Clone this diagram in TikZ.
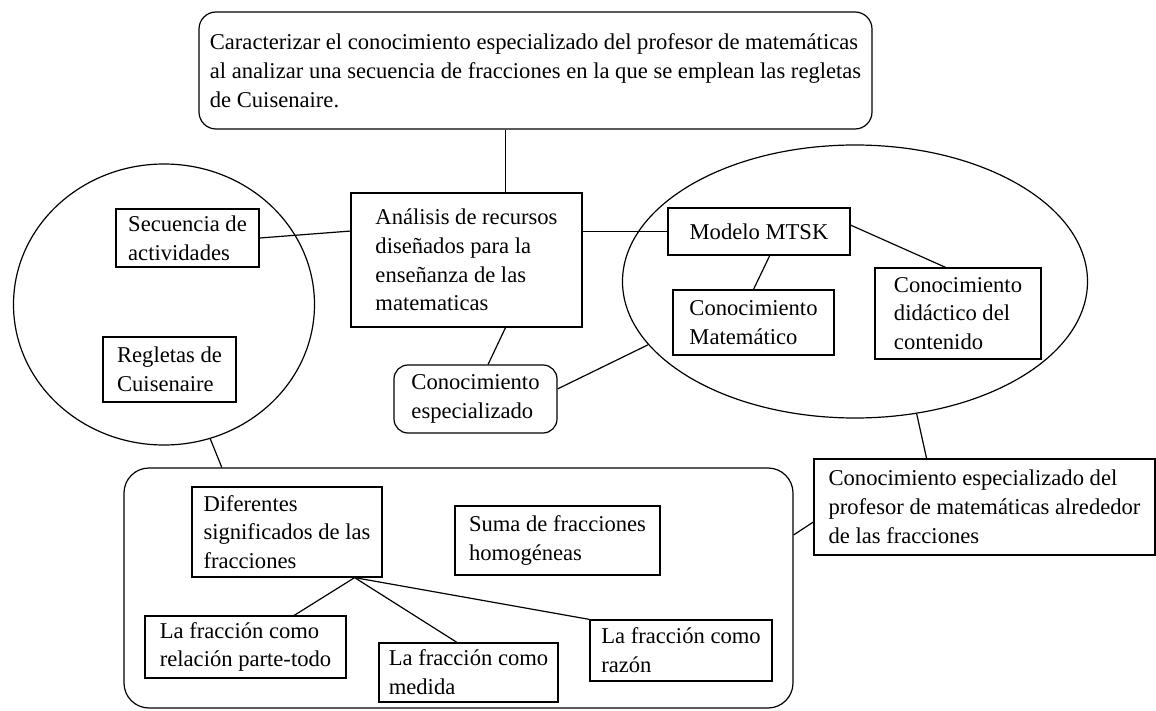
\documentclass[tikz,border=0pt]{standalone}
\usepackage{fontspec}
\setmainfont{Liberation Serif}
\usetikzlibrary{shapes.geometric}

\begin{document}
\begin{tikzpicture}[x=0.5pt, y=-0.5pt, line width=0.6pt,
  box/.style={draw, rectangle, align=left, inner sep=0pt, font=\fontsize{11.3}{14.4}\selectfont},
  rbox/.style={box, rounded corners=7pt},
  ring/.style={draw, ellipse, inner sep=0pt}]
\useasboundingbox (0,0) rectangle (1156,711);
% objetivo
\node[rbox, rounded corners=8.5pt, minimum width=336.5pt, minimum height=58.5pt] (top) at (535.5,70.5)
  {Caracterizar el conocimiento especializado del profesor de matemáticas\\
   al analizar una secuencia de fracciones en la que se emplean las regletas\\
   de Cuisenaire.};
% circulo izquierdo y elipse derecha
\node[ring, minimum width=150.5pt, minimum height=140.5pt] (circL) at (164,304.5) {};
\node[ring, minimum width=232.5pt, minimum height=136.5pt] (ellR) at (855,281.5) {};
\node[box, minimum width=115.5pt, minimum height=67pt] (ana) at (466.5,260)
  {Análisis de recursos\\ diseñados para la\\ enseñanza de las\\ matematicas};
\node[box, minimum width=71.5pt, minimum height=29pt] (sec) at (187.5,238) {Secuencia de\\ actividades};
\node[box, minimum width=66.5pt, minimum height=32.5pt] (reg) at (169.5,369.5) {Regletas de\\ Cuisenaire};
\node[rbox, minimum width=81.5pt, minimum height=34pt] (ce) at (475.5,399) {Conocimiento\\ especializado};
\node[box, minimum width=91pt, minimum height=23.5pt] (mtsk) at (759,231.5) {Modelo MTSK};
\node[box, minimum width=80.5pt, minimum height=32.5pt] (cm) at (753.5,322.5) {Conocimiento\\ Matemático};
\node[box, minimum width=83pt, minimum height=45.5pt] (cdc) at (958,313.5) {Conocimiento\\ didáctico del\\ contenido};
\node[box, minimum width=170.5pt, minimum height=48pt] (csp) at (984.5,507)
  {Conocimiento especializado del\\ profesor de matemáticas alrededor\\ de las fracciones};
% fracciones
\node[rbox, rounded corners=12.5pt, minimum width=334.5pt, minimum height=120pt] (fracs) at (458.5,588) {};
\node[box, minimum width=95pt, minimum height=45pt] (dif) at (287,532) {Diferentes\\ significados de las\\ fracciones};
\node[box, minimum width=102.5pt, minimum height=34.5pt] (suma) at (557.5,540.5) {Suma de fracciones\\ homogéneas};
\node[box, minimum width=100.5pt, minimum height=31pt] (pt) at (245.5,647) {La fracción como\\ relación parte-todo};
\node[box, minimum width=89.5pt, minimum height=29.5pt] (med) at (468.5,672.5) {La fracción como\\ medida};
\node[box, minimum width=91pt, minimum height=30.5pt] (raz) at (681,650.5) {La fracción como\\ razón};

\draw (ana.60) -- (ana.60 |- top.south);
\draw (sec.east) -- (ana.166);
\draw (ana.300) -- (ce.70);
\draw (ce.7) -- (ellR.197);
\draw (mtsk.west -| ana.east) -- (mtsk.west);
\draw (mtsk.294) -- (cm.north);
\draw (mtsk.4) -- (cdc.105);
\draw (ellR.295) -- (csp.140);
\draw (csp.185) -- (fracs.9);
\draw (circL.289) -- (fracs.153);
\draw (dif.326) -- (pt.33);
\draw (dif.326) -- (med.111);
\draw (dif.326) -- (raz.north west);
\end{tikzpicture}
\end{document}
